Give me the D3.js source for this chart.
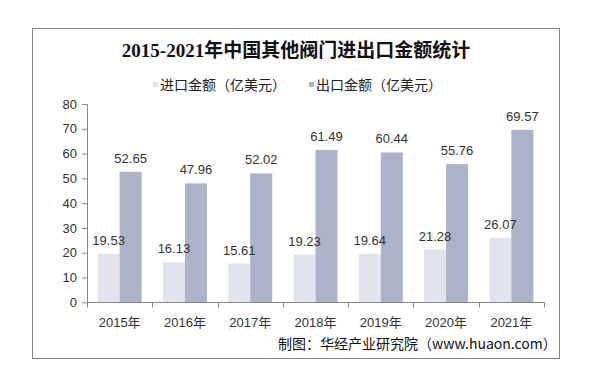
<!DOCTYPE html>
<html><head><meta charset="utf-8">
<script src="https://cdn.jsdelivr.net/npm/d3@7"></script>
<style>body{margin:0;background:#fff}svg{display:block}</style>
</head><body>
<script>
const categories = ["2015年","2016年","2017年","2018年","2019年","2020年","2021年"];
const importValues = [19.53,16.13,15.61,19.23,19.64,21.28,26.07];
const exportValues = [52.65,47.96,52.02,61.49,60.44,55.76,69.57];
const seriesNames = ["进口金额（亿美元）","出口金额（亿美元）"];
const yTicks = [0,10,20,30,40,50,60,70,80];
const titleText = "2015-2021年中国其他阀门进出口金额统计";
const sourceText = "制图：华经产业研究院（www.huaon.com）";

const W=606,H=379;
const svg=d3.select("body").append("svg").attr("width",W).attr("height",H);
const sans="'Liberation Sans',Arial,'Noto Sans CJK SC',sans-serif";
const colors=["#e1e4ec","#acb2c7"];

svg.append("rect").attr("x",32.5).attr("y",28.5).attr("width",527).attr("height",330)
  .attr("fill","#fff").attr("stroke","#858585").attr("stroke-width",1);

svg.append("text").attr("x",296).attr("y",57).attr("text-anchor","middle")
  .attr("font-family","'Liberation Serif','Times New Roman','Noto Sans CJK SC',serif")
  .attr("font-weight","bold").attr("font-size",19).attr("fill","#111").text(titleText);

const x=d3.scaleBand().domain(categories).range([87,544]).padding(0);
const y=d3.scaleLinear().domain([0,80]).range([302.3,104]);

// legend
const leg=[{x:153,tx:160,name:seriesNames[0],c:colors[0]},{x:309,tx:316,name:seriesNames[1],c:colors[1]}];
leg.forEach(l=>{
  svg.append("rect").attr("x",l.x).attr("y",82).attr("width",5).attr("height",5).attr("fill",l.c);
  svg.append("text").attr("x",l.tx).attr("y",90).attr("font-family","'Noto Sans CJK SC',sans-serif")
    .attr("font-size",14).attr("fill","#222").text(l.name);
});

// bars
const gBars=svg.append("g"), gLabels=svg.append("g");
const pairW=44, barW=22;
categories.forEach((c,i)=>{
  const start=x(c)+(x.bandwidth()-pairW)/2;
  [importValues[i],exportValues[i]].forEach((v,k)=>{
    const bx=start+k*barW;
    gBars.append("rect").attr("x",bx).attr("y",y(v)).attr("width",barW).attr("height",y(0)-y(v)).attr("fill",colors[k]);
    gLabels.append("text").attr("x",bx+barW/2).attr("y",y(v)-9).attr("text-anchor","middle")
      .attr("font-family",sans).attr("font-size",13).attr("fill","#333").text(v.toFixed(2));
  });
});

// y axis
const ya=svg.append("g").attr("transform","translate(87,0)")
  .call(d3.axisLeft(y).tickValues(yTicks).tickSize(5).tickPadding(5).tickFormat(d3.format("d")));
ya.select(".domain").attr("stroke","#888").attr("d","M-5,104.5H0.5V302.3");
ya.selectAll(".tick line").attr("stroke","#888");
ya.selectAll(".tick text").attr("font-family",sans).attr("font-size",13).attr("fill","#333");

// x axis
const xa=svg.append("g").attr("transform","translate(0,302.5)")
  .call(d3.axisBottom(x).tickSize(0).tickPadding(15));
xa.select(".domain").attr("stroke","#888").attr("d","M87,0H544.5");
xa.selectAll(".tick text").attr("font-family",sans).attr("font-size",13).attr("fill","#333");
const bounds=categories.map(c=>x(c)).concat([x.range()[1]]);
xa.selectAll(".sep").data(bounds).enter().append("line").attr("class","sep")
  .attr("x1",d=>Math.round(d)+0.5).attr("x2",d=>Math.round(d)+0.5).attr("y1",0).attr("y2",5).attr("stroke","#888");

svg.append("text").attr("x",278).attr("y",349).attr("font-family","'Noto Sans CJK SC',sans-serif")
  .attr("font-size",14).attr("fill","#111").text(sourceText);
</script>
</body></html>
